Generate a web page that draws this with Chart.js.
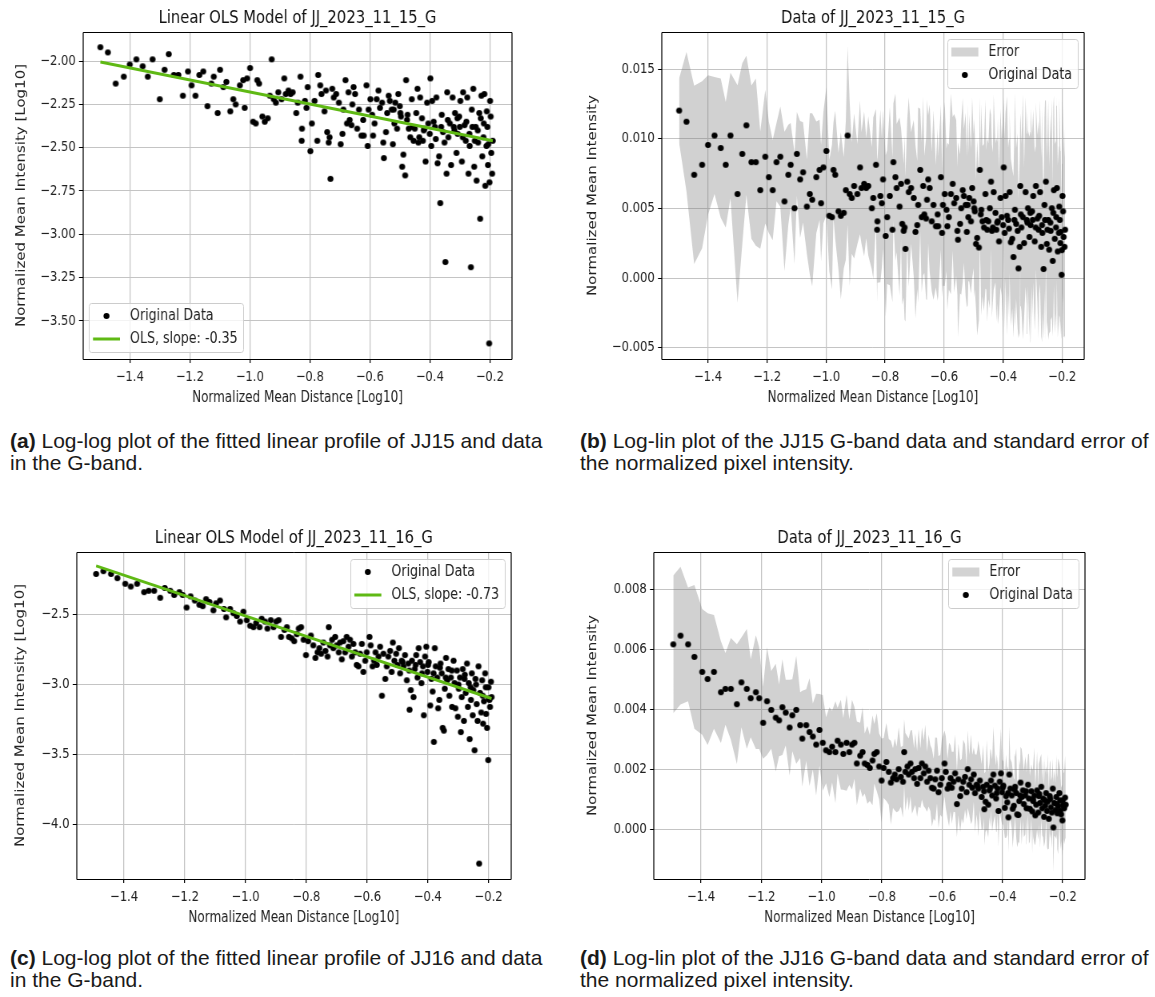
<!DOCTYPE html>
<html>
<head>
<meta charset="utf-8">
<script src="https://cdn.jsdelivr.net/npm/chart.js@4"></script>
<style>
    html, body { margin: 0; padding: 0; background: #fff; overflow: hidden; }
    #page { position: relative; width: 1155px; height: 997px; }
    /* the figure panels are squeezed horizontally like in the paper */
    canvas { position: absolute; transform-origin: 0 0; transform: scaleX(0.8); }
    .caption {
        position: absolute;
        font-family: "Liberation Sans", Arial, sans-serif;
        font-size: 21px;
        line-height: 22px;
        color: #1a1a1a;
        white-space: nowrap;
    }
</style>
</head>
<body>
<div id="page">
    <canvas id="chartA" width="721" height="415" style="left:0px;top:0px"></canvas>
    <canvas id="chartB" width="722" height="415" style="left:577px;top:0px"></canvas>
    <canvas id="chartC" width="721" height="415" style="left:0px;top:520px"></canvas>
    <canvas id="chartD" width="722" height="415" style="left:577px;top:520px"></canvas>

    <div class="caption" style="left:10px;top:430px"><b>(a)</b> Log-log plot of the fitted linear profile of JJ15 and data<br>in the G-band.</div>
    <div class="caption" style="left:580px;top:430px"><b>(b)</b> Log-lin plot of the JJ15 G-band data and standard error of<br>the normalized pixel intensity.</div>
    <div class="caption" style="left:10px;top:947px"><b>(c)</b> Log-log plot of the fitted linear profile of JJ16 and data<br>in the G-band.</div>
    <div class="caption" style="left:580px;top:947px"><b>(d)</b> Log-lin plot of the JJ16 G-band data and standard error of<br>the normalized pixel intensity.</div>
</div>

<script>
const FONT = '"DejaVu Sans", sans-serif';
const SX = 0.8;          // horizontal squeeze applied by css
const GRID = '#c4c4c4';
const OLS_GREEN = 'rgb(95,185,20)';
const BAND = 'rgba(120,120,120,0.34)';

// shared axis setup
const xRange = [-1.556, -0.126];
const xTicks = [-1.4, -1.2, -1.0, -0.8, -0.6, -0.4, -0.2];

const yRangeA = [-3.72, -1.832];
const yTicksA = [-3.5, -3.25, -3.0, -2.75, -2.5, -2.25, -2.0];
const yRangeB = [-0.00581, 0.01766];
const yTicksB = [-0.005, 0, 0.005, 0.010, 0.015];
const yRangeC = [-4.39, -2.053];
const yTicksC = [-4.0, -3.5, -3.0, -2.5];
const yRangeD = [-0.00167, 0.009255];
const yTicksD = [0, 0.002, 0.004, 0.006, 0.008];

// JJ_2023_11_15_G : log10 distance, log10 intensity, intensity, std error
const distA = [
    -1.498,-1.473,-1.447,-1.420,-1.400,-1.378,-1.357,-1.340,-1.324,-1.300,
    -1.284,-1.270,-1.253,-1.238,-1.223,-1.206,-1.194,-1.181,-1.168,-1.155,
    -1.141,-1.128,-1.120,-1.107,-1.099,-1.088,-1.078,-1.065,-1.055,-1.047,
    -1.033,-1.022,-1.017,-1.009,-0.999,-0.989,-0.980,-0.975,-0.969,-0.958,
    -0.950,-0.940,-0.933,-0.927,-0.920,-0.913,-0.905,-0.894,-0.885,-0.880,
    -0.871,-0.864,-0.857,-0.845,-0.840,-0.831,-0.827,-0.826,-0.816,-0.811,
    -0.807,-0.798,-0.793,-0.784,-0.775,-0.772,-0.765,-0.761,-0.751,-0.746,
    -0.742,-0.737,-0.734,-0.731,-0.725,-0.720,-0.712,-0.703,-0.697,-0.691,
    -0.688,-0.681,-0.676,-0.671,-0.667,-0.661,-0.658,-0.654,-0.649,-0.642,
    -0.636,-0.628,-0.622,-0.620,-0.611,-0.607,-0.604,-0.598,-0.592,-0.589,
    -0.584,-0.577,-0.571,-0.566,-0.559,-0.555,-0.553,-0.546,-0.542,-0.537,
    -0.533,-0.527,-0.523,-0.520,-0.518,-0.515,-0.509,-0.505,-0.500,-0.498,
    -0.496,-0.492,-0.488,-0.482,-0.479,-0.476,-0.474,-0.470,-0.465,-0.460,
    -0.457,-0.454,-0.450,-0.445,-0.441,-0.438,-0.435,-0.432,-0.426,-0.423,
    -0.420,-0.418,-0.414,-0.409,-0.405,-0.400,-0.398,-0.395,-0.392,-0.387,
    -0.383,-0.380,-0.378,-0.374,-0.369,-0.365,-0.362,-0.360,-0.356,-0.351,
    -0.348,-0.344,-0.342,-0.340,-0.338,-0.333,-0.329,-0.324,-0.320,-0.318,
    -0.316,-0.311,-0.308,-0.307,-0.302,-0.300,-0.298,-0.293,-0.290,-0.289,
    -0.284,-0.280,-0.278,-0.275,-0.271,-0.268,-0.267,-0.263,-0.260,-0.258,
    -0.255,-0.252,-0.250,-0.247,-0.244,-0.240,-0.239,-0.235,-0.232,-0.230,
    -0.228,-0.225,-0.221,-0.220,-0.218,-0.215,-0.211,-0.210,-0.208,-0.206,
    -0.205,-0.202,-0.201,-0.199,-0.197,-0.195,-0.192,-0.190
];
const logIntA = [
    -1.92,-1.95,-2.13,-2.09,-2.02,-1.99,-2.03,-2.09,-1.99,-2.22,
    -2.05,-1.96,-2.08,-2.08,-2.20,-2.06,-2.14,-2.20,-2.08,-2.06,
    -2.26,-2.13,-2.09,-2.30,-2.05,-2.15,-2.12,-2.29,-2.22,-2.25,
    -2.14,-2.11,-2.27,-2.10,-2.04,-2.35,-2.36,-2.11,-2.13,-2.32,
    -2.35,-2.33,-2.20,-1.99,-2.22,-2.24,-2.18,-2.22,-2.10,-2.19,
    -2.17,-2.19,-2.18,-2.30,-2.24,-2.09,-2.46,-2.39,-2.23,-2.27,
    -2.15,-2.52,-2.36,-2.23,-2.46,-2.08,-2.14,-2.19,-2.29,-2.17,
    -2.41,-2.47,-2.44,-2.68,-2.16,-2.21,-2.19,-2.24,-2.48,-2.42,
    -2.28,-2.11,-2.36,-2.18,-2.34,-2.37,-2.25,-2.15,-2.19,-2.39,
    -2.28,-2.43,-2.34,-2.43,-2.14,-2.49,-2.28,-2.22,-2.31,-2.43,
    -2.36,-2.22,-2.17,-2.27,-2.24,-2.47,-2.56,-2.41,-2.30,-2.20,
    -2.23,-2.28,-2.48,-2.28,-2.36,-2.24,-2.39,-2.19,-2.26,-2.30,
    -2.32,-2.61,-2.54,-2.66,-2.11,-2.34,-2.31,-2.39,-2.44,-2.22,
    -2.38,-2.46,-2.39,-2.30,-2.16,-2.47,-2.44,-2.21,-2.33,-2.46,
    -2.40,-2.39,-2.58,-2.24,-2.36,-2.42,-2.10,-2.49,-2.23,-2.35,
    -2.38,-2.45,-2.21,-2.59,-2.55,-2.82,-2.38,-2.31,-2.41,-2.47,
    -3.16,-2.65,-2.18,-2.34,-2.44,-2.36,-2.60,-2.21,-2.38,-2.40,
    -2.30,-2.53,-2.33,-2.42,-2.32,-2.38,-2.23,-2.58,-2.44,-2.18,
    -2.37,-2.46,-2.35,-2.21,-2.65,-2.42,-2.49,-3.19,-2.28,-2.38,
    -2.16,-2.61,-2.46,-2.38,-2.69,-2.40,-2.47,-2.30,-2.91,-2.33,
    -2.20,-2.55,-2.44,-2.36,-2.19,-2.72,-2.49,-2.29,-2.38,-2.60,
    -2.48,-3.63,-2.70,-2.23,-2.32,-2.53,-2.65,-2.46
];
const intA = [
    0.01202,0.01122,0.00741,0.00813,0.00955,0.01023,0.00933,0.00813,0.01023,0.00603,
    0.00891,0.01096,0.00832,0.00832,0.00631,0.00871,0.00724,0.00631,0.00832,0.00871,
    0.00550,0.00741,0.00813,0.00501,0.00891,0.00708,0.00759,0.00513,0.00603,0.00562,
    0.00724,0.00776,0.00537,0.00794,0.00912,0.00447,0.00437,0.00776,0.00741,0.00479,
    0.00447,0.00468,0.00631,0.01023,0.00603,0.00575,0.00661,0.00603,0.00794,0.00646,
    0.00676,0.00646,0.00661,0.00501,0.00575,0.00813,0.00347,0.00407,0.00589,0.00537,
    0.00708,0.00302,0.00437,0.00589,0.00347,0.00832,0.00724,0.00646,0.00513,0.00676,
    0.00389,0.00339,0.00363,0.00209,0.00692,0.00617,0.00646,0.00575,0.00331,0.00380,
    0.00525,0.00776,0.00437,0.00661,0.00457,0.00427,0.00562,0.00708,0.00646,0.00407,
    0.00525,0.00372,0.00457,0.00372,0.00724,0.00324,0.00525,0.00603,0.00490,0.00372,
    0.00437,0.00603,0.00676,0.00537,0.00575,0.00339,0.00275,0.00389,0.00501,0.00631,
    0.00589,0.00525,0.00331,0.00525,0.00437,0.00575,0.00407,0.00646,0.00550,0.00501,
    0.00479,0.00245,0.00288,0.00219,0.00776,0.00457,0.00490,0.00407,0.00363,0.00603,
    0.00417,0.00347,0.00407,0.00501,0.00692,0.00339,0.00363,0.00617,0.00468,0.00347,
    0.00398,0.00407,0.00263,0.00575,0.00437,0.00380,0.00794,0.00324,0.00589,0.00447,
    0.00417,0.00355,0.00617,0.00257,0.00282,0.00151,0.00417,0.00490,0.00389,0.00339,
    0.000692,0.00224,0.00661,0.00457,0.00363,0.00437,0.00251,0.00617,0.00417,0.00398,
    0.00501,0.00295,0.00468,0.00380,0.00479,0.00417,0.00589,0.00263,0.00363,0.00661,
    0.00427,0.00347,0.00447,0.00617,0.00224,0.00380,0.00324,0.000646,0.00525,0.00417,
    0.00692,0.00245,0.00347,0.00417,0.00204,0.00398,0.00339,0.00501,0.00123,0.00468,
    0.00631,0.00282,0.00363,0.00437,0.00646,0.00191,0.00324,0.00513,0.00417,0.00251,
    0.00331,0.000234,0.00200,0.00589,0.00479,0.00295,0.00224,0.00347
];
const errA = [
    .0023,.0050,.0064,.0060,.0050,.0042,.0050,.0045,.0045,.0078,
    .0065,.0050,.0055,.0060,.0042,.0048,.0040,.0036,.0028,.0036,
    .0050,.0036,.0030,.0040,.0030,.0042,.0036,.0034,.0058,.0062,
    .0040,.0036,.0042,.0040,.0046,.0040,.0052,.0034,.0046,.0042,
    .0060,.0040,.0050,.0064,.0066,.0040,.0052,.0036,.0048,.0040,
    .0052,.0036,.0050,.0044,.0058,.0040,.0052,.0044,.0062,.0046,
    .0050,.0058,.0048,.0064,.0052,.0042,.0060,.0046,.0064,.0040,
    .0058,.0048,.0066,.0052,.0044,.0068,.0040,.0056,.0062,.0046,
    .0070,.0044,.0054,.0064,.0042,.0058,.0072,.0046,.0060,.0050,
    .0068,.0044,.0062,.0050,.0052,.0046,.0058,.0066,.0044,.0060,
    .0052,.0072,.0048,.0064,.0056,.0046,.0070,.0050,.0062,.0066,
    .0048,.0066,.0054,.0072,.0046,.0060,.0052,.0065,.0048,.0064,
    .0056,.0046,.0070,.0052,.0052,.0048,.0076,.0054,.0060,.0068,
    .0050,.0066,.0056,.0072,.0048,.0062,.0054,.0070,.0050,.0066,
    .0058,.0074,.0052,.0064,.0056,.0080,.0050,.0068,.0060,.0086,
    .0052,.0064,.0058,.0060,.0050,.0058,.0062,.0084,.0054,.0070,
    .0050,.0062,.0052,.0066,.0060,.0088,.0054,.0068,.0062,.0080,
    .0056,.0072,.0058,.0084,.0054,.0070,.0062,.0064,.0058,.0060,
    .0060,.0078,.0056,.0066,.0064,.0084,.0058,.0050,.0062,.0086,
    .0058,.0062,.0066,.0086,.0060,.0078,.0064,.0078,.0054,.0076,
    .0068,.0068,.0062,.0080,.0066,.0062,.0062,.0078,.0070,.0066,
    .0064,.0046,.0062,.0070,.0066,.0072,.0064,.0078
];
const olsXA = [-1.498, -0.190];
const olsYA = [-2.005, -2.460];

// JJ_2023_11_16_G
const distC = [
    -1.492,-1.468,-1.443,-1.422,-1.396,-1.378,-1.357,-1.334,-1.319,-1.301,
    -1.281,-1.266,-1.248,-1.235,-1.218,-1.207,-1.194,-1.181,-1.167,-1.152,
    -1.141,-1.130,-1.119,-1.106,-1.097,-1.084,-1.071,-1.064,-1.051,-1.040,
    -1.029,-1.018,-1.007,-0.996,-0.985,-0.974,-0.965,-0.954,-0.947,-0.936,
    -0.928,-0.917,-0.908,-0.899,-0.891,-0.883,-0.872,-0.864,-0.857,-0.848,
    -0.840,-0.831,-0.825,-0.817,-0.809,-0.801,-0.794,-0.785,-0.777,-0.770,
    -0.763,-0.757,-0.751,-0.744,-0.737,-0.730,-0.726,-0.722,-0.715,-0.711,
    -0.705,-0.700,-0.693,-0.689,-0.683,-0.678,-0.672,-0.667,-0.661,-0.656,
    -0.650,-0.645,-0.639,-0.634,-0.628,-0.623,-0.617,-0.612,-0.606,-0.601,
    -0.592,-0.588,-0.582,-0.577,-0.572,-0.568,-0.562,-0.557,-0.551,-0.546,
    -0.540,-0.535,-0.530,-0.524,-0.519,-0.515,-0.510,-0.504,-0.500,-0.495,
    -0.491,-0.486,-0.483,-0.480,-0.475,-0.469,-0.464,-0.461,-0.460,-0.456,
    -0.452,-0.447,-0.443,-0.440,-0.438,-0.434,-0.430,-0.425,-0.421,-0.419,
    -0.416,-0.413,-0.409,-0.405,-0.401,-0.399,-0.397,-0.392,-0.388,-0.384,
    -0.381,-0.380,-0.377,-0.374,-0.369,-0.366,-0.362,-0.360,-0.358,-0.354,
    -0.351,-0.347,-0.344,-0.341,-0.340,-0.336,-0.332,-0.329,-0.324,-0.321,
    -0.320,-0.315,-0.312,-0.309,-0.304,-0.301,-0.299,-0.298,-0.294,-0.291,
    -0.288,-0.285,-0.281,-0.279,-0.278,-0.275,-0.271,-0.268,-0.265,-0.262,
    -0.259,-0.258,-0.255,-0.252,-0.250,-0.246,-0.243,-0.241,-0.239,-0.236,
    -0.233,-0.231,-0.228,-0.224,-0.221,-0.219,-0.218,-0.215,-0.211,-0.209,
    -0.208,-0.205,-0.201,-0.200,-0.199,-0.197,-0.195,-0.192,-0.190
];
const logIntC = [
    -2.21,-2.19,-2.21,-2.24,-2.28,-2.30,-2.28,-2.34,-2.33,-2.33,
    -2.38,-2.31,-2.33,-2.36,-2.34,-2.36,-2.45,-2.37,-2.40,-2.43,
    -2.44,-2.39,-2.41,-2.47,-2.42,-2.40,-2.46,-2.52,-2.46,-2.49,
    -2.51,-2.55,-2.48,-2.54,-2.58,-2.59,-2.56,-2.59,-2.53,-2.55,
    -2.60,-2.54,-2.59,-2.55,-2.54,-2.66,-2.61,-2.59,-2.66,-2.67,
    -2.69,-2.64,-2.60,-2.59,-2.68,-2.79,-2.69,-2.65,-2.72,-2.81,
    -2.77,-2.74,-2.78,-2.70,-2.76,-2.80,-2.59,-2.72,-2.68,-2.74,
    -2.66,-2.72,-2.77,-2.70,-2.82,-2.69,-2.77,-2.66,-2.73,-2.68,
    -2.80,-2.71,-2.77,-2.86,-2.87,-2.78,-2.71,-2.91,-2.83,-2.77,
    -2.66,-2.72,-2.87,-2.83,-2.77,-2.86,-2.80,-2.73,-3.08,-2.78,
    -2.96,-2.87,-2.80,-2.76,-2.91,-2.70,-2.83,-2.78,-2.86,-2.74,
    -2.92,-2.83,-2.84,-2.87,-2.79,-2.97,-2.85,-2.90,-3.18,-3.04,
    -2.83,-3.09,-2.89,-2.86,-2.79,-2.95,-2.74,-2.84,-2.99,-2.92,
    -2.87,-3.22,-2.80,-2.73,-2.91,-2.86,-2.84,-3.15,-2.96,-3.05,
    -2.92,-3.41,-2.74,-2.87,-2.95,-3.17,-3.11,-2.88,-2.85,-2.92,
    -3.31,-3.33,-3.03,-2.95,-2.81,-2.97,-2.89,-3.08,-2.95,-2.90,
    -3.16,-2.83,-2.99,-3.17,-2.90,-3.23,-3.00,-3.03,-2.95,-3.34,
    -3.09,-2.89,-3.26,-2.96,-2.93,-3.06,-2.85,-3.16,-2.99,-3.39,
    -3.02,-3.11,-2.92,-3.22,-3.04,-3.47,-2.96,-3.00,-3.14,-3.26,
    -2.87,-4.28,-3.06,-3.20,-2.97,-3.08,-3.28,-3.12,-2.92,-3.02,
    -3.21,-3.31,-3.54,-3.02,-3.10,-3.11,-3.16,-2.98,-3.09
];
const intC = [
    0.00617,0.00646,0.00617,0.00575,0.00525,0.00501,0.00525,0.00457,0.00468,0.00468,
    0.00417,0.00490,0.00468,0.00437,0.00457,0.00437,0.00355,0.00427,0.00398,0.00372,
    0.00363,0.00407,0.00389,0.00339,0.00380,0.00398,0.00347,0.00302,0.00347,0.00324,
    0.00309,0.00282,0.00331,0.00288,0.00263,0.00257,0.00275,0.00257,0.00295,0.00282,
    0.00251,0.00288,0.00257,0.00282,0.00288,0.00219,0.00245,0.00257,0.00219,0.00214,
    0.00204,0.00229,0.00251,0.00257,0.00209,0.00162,0.00204,0.00224,0.00191,0.00155,
    0.00170,0.00182,0.00166,0.00200,0.00174,0.00158,0.00257,0.00191,0.00209,0.00182,
    0.00219,0.00191,0.00170,0.00200,0.00151,0.00204,0.00170,0.00219,0.00186,0.00209,
    0.00158,0.00195,0.00170,0.00138,0.00135,0.00166,0.00195,0.00123,0.00148,0.00170,
    0.00219,0.00191,0.00135,0.00148,0.00170,0.00138,0.00158,0.00186,0.000832,0.00166,
    0.00110,0.00135,0.00158,0.00174,0.00123,0.00200,0.00148,0.00166,0.00138,0.00182,
    0.00120,0.00148,0.00145,0.00135,0.00162,0.00107,0.00141,0.00126,0.000661,0.000912,
    0.00148,0.000813,0.00129,0.00138,0.00162,0.00112,0.00182,0.00145,0.00102,0.00120,
    0.00135,0.000603,0.00158,0.00186,0.00123,0.00138,0.00145,0.000708,0.00110,0.000891,
    0.00120,0.000389,0.00182,0.00135,0.00112,0.000676,0.000776,0.00132,0.00141,0.00120,
    0.000490,0.000468,0.000933,0.00112,0.00155,0.00107,0.00129,0.000832,0.00112,0.00126,
    0.000692,0.00148,0.00102,0.000676,0.00126,0.000589,0.00100,0.000933,0.00112,0.000457,
    0.000813,0.00129,0.000550,0.00110,0.00117,0.000871,0.00141,0.000692,0.00102,0.000407,
    0.000955,0.000776,0.00120,0.000603,0.000912,0.000339,0.00110,0.00100,0.000724,0.000550,
    0.00135,0.0000525,0.000871,0.000631,0.00107,0.000832,0.000525,0.000759,0.00120,0.000955,
    0.000617,0.000490,0.000288,0.000955,0.000794,0.000776,0.000692,0.00105,0.000813
];
const errC = [
    .0023,.0023,.0019,.0024,.0021,.0022,.0019,.0017,.0012,.0017,
    .0020,.0015,.0020,.0013,.0019,.0017,.0012,.0018,.0013,.0018,
    .0012,.0016,.0011,.0016,.0012,.0018,.0011,.0016,.0012,.0018,
    .0011,.0017,.0012,.0016,.0011,.0015,.0012,.0017,.0011,.0015,
    .0012,.0016,.0011,.0015,.0012,.0014,.0011,.0015,.0010,.0013,
    .0011,.0015,.0010,.0013,.0011,.0014,.0010,.0013,.0011,.0014,
    .0010,.0012,.0011,.0014,.0010,.0012,.0011,.0013,.0010,.0012,
    .0011,.0014,.0010,.0012,.0011,.0013,.0010,.0012,.0011,.0014,
    .0010,.0012,.0011,.0013,.0010,.0014,.0011,.0012,.0010,.0013,
    .0011,.0012,.0010,.0014,.0011,.0012,.0010,.0013,.0011,.0012,
    .0012,.0010,.0014,.0011,.0009,.0013,.0010,.0015,.0011,.0009,
    .0013,.0010,.0012,.0016,.0010,.0011,.0014,.0009,.0012,.0010,
    .0015,.0011,.0009,.0013,.0010,.0012,.0016,.0010,.0011,.0013,
    .0009,.0012,.0010,.0015,.0011,.0009,.0013,.0010,.0014,.0011,
    .0009,.0012,.0016,.0010,.0011,.0013,.0009,.0012,.0010,.0015,
    .0011,.0009,.0014,.0010,.0012,.0016,.0010,.0011,.0013,.0009,
    .0012,.0010,.0015,.0011,.0009,.0014,.0010,.0012,.0016,.0010,
    .0011,.0013,.0009,.0012,.0010,.0015,.0011,.0009,.0013,.0010,
    .0014,.0011,.0009,.0012,.0016,.0010,.0011,.0013,.0009,.0012,
    .0010,.0015,.0011,.0009,.0014,.0010,.0012,.0016,.0010,.0011,
    .0013,.0009,.0012,.0010,.0015,.0011,.0012,.0014,.0011
];
const olsXC = [-1.492, -0.190];
const olsYC = [-2.152, -3.100];

function fmt(v, dec) {
    const s = Math.abs(v).toFixed(dec);
    return (v < -1e-12 ? '\u2212' : '') + s;
}

function pts(xs, ys) {
    return xs.map((x, i) => ({ x: x, y: ys[i] }));
}

// dot drawn wider so it looks round after the css squeeze
function makeDot(r) {
    const c = document.createElement('canvas');
    c.width = Math.ceil(2 * r / SX) + 2;
    c.height = Math.ceil(2 * r) + 2;
    const g = c.getContext('2d');
    g.fillStyle = '#000';
    g.beginPath();
    g.ellipse(c.width / 2, c.height / 2, r / SX, r, 0, 0, Math.PI * 2);
    g.fill();
    return c;
}
const DOT = makeDot(3);

// frame (all four spines) + matplotlib style legend inside the axes
const frameLegend = {
    id: 'frameLegend',
    afterDatasetsDraw(chart, args, opts) {
        const ctx = chart.ctx;
        const a = chart.chartArea;
        const L = Math.round(a.left), R = Math.round(a.right);
        const T = Math.round(a.top) + 0.5, B = Math.round(a.bottom) + 0.5;
        ctx.save();
        ctx.strokeStyle = '#000';
        ctx.lineWidth = 1;
        ctx.beginPath();
        ctx.moveTo(L, T); ctx.lineTo(R, T);
        ctx.moveTo(L, B); ctx.lineTo(R, B);
        ctx.stroke();
        ctx.lineWidth = 1 / SX;
        ctx.beginPath();
        ctx.moveTo(L, T); ctx.lineTo(L, B);
        ctx.moveTo(R, T); ctx.lineTo(R, B);
        ctx.stroke();

        ctx.font = '15.8px ' + FONT;
        const items = opts.items.map(it => {
            const ds = chart.data.datasets[it.ds];
            return { kind: it.kind, text: ds.label, color: ds.borderColor || '#000' };
        });
        const textW = Math.max(...items.map(it => ctx.measureText(it.text).width));
        const w = (4 + 27 + 10 + 6) / SX + textW;
        const h = 49;
        const x = opts.corner.indexOf('left') >= 0 ? a.left + 6 / SX : a.right - 6 / SX - w;
        const y = opts.corner.indexOf('lower') >= 0 ? a.bottom - 7 - h : a.top + 7;

        ctx.fillStyle = 'rgba(255,255,255,0.8)';
        ctx.strokeStyle = '#cccccc';
        ctx.lineWidth = 1;
        ctx.beginPath();
        ctx.roundRect(Math.round(x) + 0.5, Math.round(y) + 0.5, Math.round(w), h, 3);
        ctx.fill();
        ctx.stroke();

        items.forEach((it, i) => {
            const cy = y + 13 + i * 23;
            const hx = x + 4 / SX;
            const hw = 27 / SX;
            if (it.kind === 'dot') {
                ctx.fillStyle = '#000';
                ctx.beginPath();
                ctx.ellipse(hx + hw / 2, cy, 3 / SX, 3, 0, 0, Math.PI * 2);
                ctx.fill();
            } else if (it.kind === 'line') {
                ctx.strokeStyle = it.color;
                ctx.lineWidth = 3;
                ctx.beginPath();
                ctx.moveTo(hx, cy);
                ctx.lineTo(hx + hw, cy);
                ctx.stroke();
            } else if (it.kind === 'patch') {
                ctx.fillStyle = '#d3d3d3';
                ctx.fillRect(hx, cy - 4.5, hw, 9);
            }
            ctx.fillStyle = '#222';
            ctx.textBaseline = 'middle';
            ctx.textAlign = 'left';
            ctx.fillText(it.text, hx + hw + 10 / SX, cy);
        });
        ctx.restore();
    }
};

function dotSet(label, xs, ys) {
    return {
        label: label, data: pts(xs, ys), order: 1,
        pointStyle: DOT, pointRadius: 3, pointHoverRadius: 3, pointBorderWidth: 0,
        pointBackgroundColor: '#000', borderColor: '#000'
    };
}

function olsSet(label, xs, ys) {
    return {
        type: 'line', label: label, data: pts(xs, ys), order: 0,
        borderColor: OLS_GREEN, borderWidth: 3, pointRadius: 0, fill: false, tension: 0
    };
}

function bandSets(xs, ys, errs) {
    const lower = xs.map((x, i) => ({ x: x, y: ys[i] - errs[i] }));
    const upper = xs.map((x, i) => ({ x: x, y: ys[i] + errs[i] }));
    return [
        { type: 'line', label: 'Error', data: lower, order: 3, borderColor: 'rgba(0,0,0,0)',
          borderWidth: 1, pointRadius: 0, fill: false, tension: 0 },
        { type: 'line', label: 'Error', data: upper, order: 3, borderColor: 'rgba(0,0,0,0)',
          borderWidth: 1, pointRadius: 0, fill: '-1', backgroundColor: BAND, tension: 0 }
    ];
}

// o.axesLeft / o.axesRight are page px measured from the canvas left edge
function makeChart(id, o) {
    const canvas = document.getElementById(id);
    const yAxisW = o.axesLeft / SX;
    const padRight = canvas.width - o.axesRight / SX;
    const yTitlePad = o.yTitleX / SX - 9;
    return new Chart(canvas, {
        type: 'scatter',
        data: { datasets: o.datasets },
        options: {
            responsive: false,
            animation: false,
            devicePixelRatio: 1,
            events: [],
            layout: { padding: { left: 0, top: 0, right: padRight, bottom: 0 } },
            plugins: {
                legend: { display: false },
                tooltip: { enabled: false },
                title: {
                    display: true, text: o.title, fullSize: false, color: '#111',
                    font: { family: FONT, size: 18.5, weight: 'normal' },
                    padding: { top: 7, bottom: 2.8 }
                },
                frameLegend: { items: o.legendItems, corner: o.corner }
            },
            scales: {
                x: {
                    type: 'linear', bounds: 'data', min: xRange[0], max: xRange[1],
                    afterBuildTicks: s => { s.ticks = xTicks.map(v => ({ value: v })); },
                    afterFit: s => { s.height = 56; },
                    grid: { color: GRID, lineWidth: 1 / SX, tickColor: '#000', tickLength: 4 },
                    border: { display: false },
                    ticks: { color: '#222', font: { family: FONT, size: 14.5 }, padding: 6, maxRotation: 0,
                             callback: v => fmt(v, 1) },
                    title: { display: true, text: 'Normalized Mean Distance [Log10]', color: '#222',
                             font: { family: FONT, size: 15 }, padding: { top: 0, bottom: 7.5 } }
                },
                y: {
                    type: 'linear', bounds: 'data', min: o.yRange[0], max: o.yRange[1],
                    afterBuildTicks: s => { s.ticks = o.yTicks.map(v => ({ value: v })); },
                    afterFit: s => { s.width = yAxisW; },
                    grid: { color: GRID, lineWidth: 1, tickColor: '#000', tickLength: 5 },
                    border: { display: false },
                    ticks: { color: '#222', font: { family: FONT, size: 14.5 }, padding: 4,
                             callback: v => fmt(v, o.yDec) },
                    title: { display: true, text: o.yLabel, color: '#222',
                             font: { family: FONT, size: 15 }, padding: { top: yTitlePad, bottom: 0 } }
                }
            }
        },
        plugins: [frameLegend]
    });
}

makeChart('chartA', {
    title: 'Linear OLS Model of JJ_2023_11_15_G',
    yLabel: 'Normalized Mean Intensity [Log10]',
    yRange: yRangeA, yTicks: yTicksA, yDec: 2,
    axesLeft: 83, axesRight: 512, yTitleX: 21.7,
    datasets: [dotSet('Original Data', distA, logIntA), olsSet('OLS, slope: -0.35', olsXA, olsYA)],
    legendItems: [{ ds: 0, kind: 'dot' }, { ds: 1, kind: 'line' }],
    corner: 'lower left'
});

makeChart('chartB', {
    title: 'Data of JJ_2023_11_15_G',
    yLabel: 'Normalized Mean Intensity',
    yRange: yRangeB, yTicks: yTicksB, yDec: 3,
    axesLeft: 85, axesRight: 507, yTitleX: 16,
    datasets: bandSets(distA, intA, errA).concat([dotSet('Original Data', distA, intA)]),
    legendItems: [{ ds: 1, kind: 'patch' }, { ds: 2, kind: 'dot' }],
    corner: 'upper right'
});

makeChart('chartC', {
    title: 'Linear OLS Model of JJ_2023_11_16_G',
    yLabel: 'Normalized Mean Intensity [Log10]',
    yRange: yRangeC, yTicks: yTicksC, yDec: 1,
    axesLeft: 76.7, axesRight: 511, yTitleX: 20.7,
    datasets: [dotSet('Original Data', distC, logIntC), olsSet('OLS, slope: -0.73', olsXC, olsYC)],
    legendItems: [{ ds: 0, kind: 'dot' }, { ds: 1, kind: 'line' }],
    corner: 'upper right'
});

makeChart('chartD', {
    title: 'Data of JJ_2023_11_16_G',
    yLabel: 'Normalized Mean Intensity',
    yRange: yRangeD, yTicks: yTicksD, yDec: 3,
    axesLeft: 77, axesRight: 508, yTitleX: 16.3,
    datasets: bandSets(distC, intC, errC).concat([dotSet('Original Data', distC, intC)]),
    legendItems: [{ ds: 1, kind: 'patch' }, { ds: 2, kind: 'dot' }],
    corner: 'upper right'
});
</script>
</body>
</html>
